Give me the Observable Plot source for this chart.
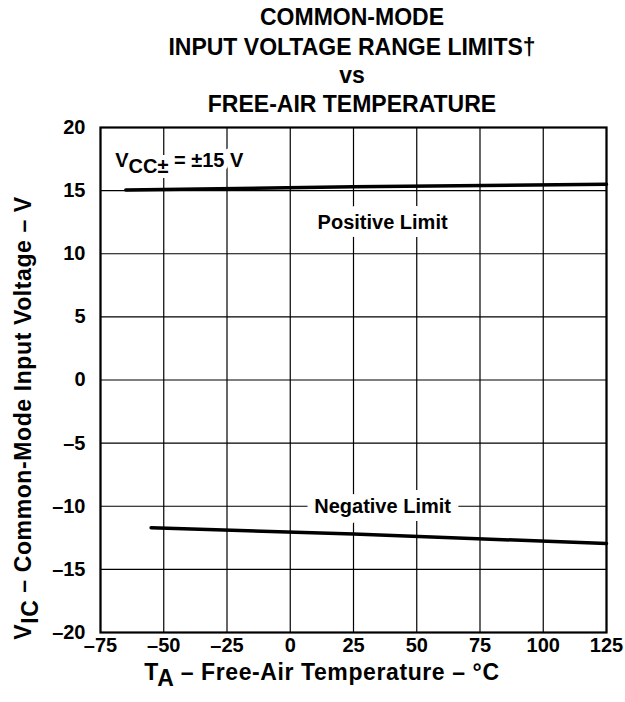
<!DOCTYPE html>
<html><head><meta charset="utf-8">
<script src="https://cdn.jsdelivr.net/npm/d3@7"></script>
<script src="https://cdn.jsdelivr.net/npm/@observablehq/plot@0.6"></script>
<style>
body{margin:0;background:#fff}
svg{font-family:"Liberation Sans",Arial,Helvetica,sans-serif}
</style>
</head><body><div id="chart"></div>
<script>
const titleLines = ["COMMON-MODE", "INPUT VOLTAGE RANGE LIMITS†", "vs", "FREE-AIR TEMPERATURE"];
const xTicks = [-75, -50, -25, 0, 25, 50, 75, 100, 125];
const yTicks = [-20, -15, -10, -5, 0, 5, 10, 15, 20];
const posTemp = [-65, 25, 125];
const posVolt = [15.05, 15.3, 15.5];
const negTemp = [-55, 25, 125];
const negVolt = [-11.7, -12.2, -12.95];
const limitLabels = ["Positive Limit", "Negative Limit"];
const limitLabelTemp = [36.5, 36.5];
const limitLabelVolt = [12.5, -10];
const vccLabelTemp = -69;
const vccLabelVolt = 16.8;
const xTitle = ["T", "A", " – Free-Air Temperature – °C"];
const yTitle = ["V", "IC", " – Common-Mode Input Voltage – V"];

const fmt = d => d < 0 ? "–" + Math.abs(d) : String(d);
const pos = posTemp.map((t, i) => ({t, v: posVolt[i]}));
const neg = negTemp.map((t, i) => ({t, v: negVolt[i]}));
const labs = limitLabels.map((s, i) => ({s, t: limitLabelTemp[i], v: limitLabelVolt[i]}));

const plot = Plot.plot({
  width: 625, height: 702,
  marginLeft: 100, marginRight: 19, marginTop: 127, marginBottom: 70,
  style: {fontFamily: '"Liberation Sans",Arial,sans-serif', fontSize: "20px", color: "black", background: "white"},
  x: {domain: [-75, 125], label: null},
  y: {domain: [-20, 20], label: null},
  marks: [
    Plot.gridX(xTicks, {stroke: "black", strokeOpacity: 1, strokeWidth: 1.2}),
    Plot.gridY(yTicks, {stroke: "black", strokeOpacity: 1, strokeWidth: 1.2}),
    Plot.axisX(xTicks, {tickFormat: fmt, tickSize: 0, tickPadding: 5, fontSize: 20, fill: "black", label: null}),
    Plot.axisY(yTicks, {tickFormat: fmt, tickSize: 0, tickPadding: 15, fontSize: 20, fill: "black", label: null}),
    Plot.text(labs, {x: "t", y: "v", text: "s", fill: "black", stroke: "white", strokeWidth: 16, strokeLinejoin: "round", paintOrder: "stroke", fontSize: 20}),
    Plot.line(pos, {x: "t", y: "v", stroke: "black", strokeWidth: 3.5}),
    Plot.line(neg, {x: "t", y: "v", stroke: "black", strokeWidth: 3.5}),
    Plot.frame({stroke: "black", strokeWidth: 2.2})
  ]
});
document.getElementById("chart").appendChild(plot);

const svg = d3.select(plot);
svg.selectAll("g[aria-label='x-axis tick label'], g[aria-label='y-axis tick label']")
  .style("font-size", "20px").style("font-weight", "bold").style("font-variant", "normal");
svg.selectAll("g[aria-label='x-axis tick label'] text, g[aria-label='y-axis tick label'] text")
  .style("font-size", "20px").style("font-weight", "bold");

const xs = plot.scale("x"), ys = plot.scale("y");
const cx = (xs.range[0] + xs.range[1]) / 2;

// title
const tBase = [25, 55, 83, 112];
titleLines.forEach((s, i) => {
  svg.append("text").attr("x", cx - 1).attr("y", tBase[i]).attr("text-anchor", "middle")
    .attr("font-size", 23).attr("fill", "black").text(s);
});

// Vcc label
const vt = svg.append("text").attr("x", xs.apply(vccLabelTemp)).attr("y", ys.apply(vccLabelVolt))
  .attr("text-anchor", "start")
  .attr("font-size", 20).attr("fill", "black")
  .attr("stroke", "white").attr("stroke-width", 10).attr("stroke-linejoin", "round").attr("paint-order", "stroke");
vt.append("tspan").text("V");
vt.append("tspan").attr("dy", 6).text("CC±");
vt.append("tspan").attr("dy", -6).text(" = ±15 V");

// x title
const xt = svg.append("text").attr("x", 322).attr("y", 680).attr("text-anchor", "middle")
  .attr("font-size", 23).attr("letter-spacing", 0.6).attr("fill", "black");
xt.append("tspan").text(xTitle[0]);
xt.append("tspan").attr("dy", 6).text(xTitle[1]);
xt.append("tspan").attr("dy", -6).text(xTitle[2]);

// y title
const yt = svg.append("text").attr("transform", "translate(31,418) rotate(-90)").attr("text-anchor", "middle")
  .attr("font-size", 23).attr("letter-spacing", 0.6).attr("fill", "black");
yt.append("tspan").text(yTitle[0]);
yt.append("tspan").attr("dy", 7).text(yTitle[1]);
yt.append("tspan").attr("dy", -7).text(yTitle[2]);

svg.selectAll("text").style("font-weight", "bold");
</script>
</body></html>
